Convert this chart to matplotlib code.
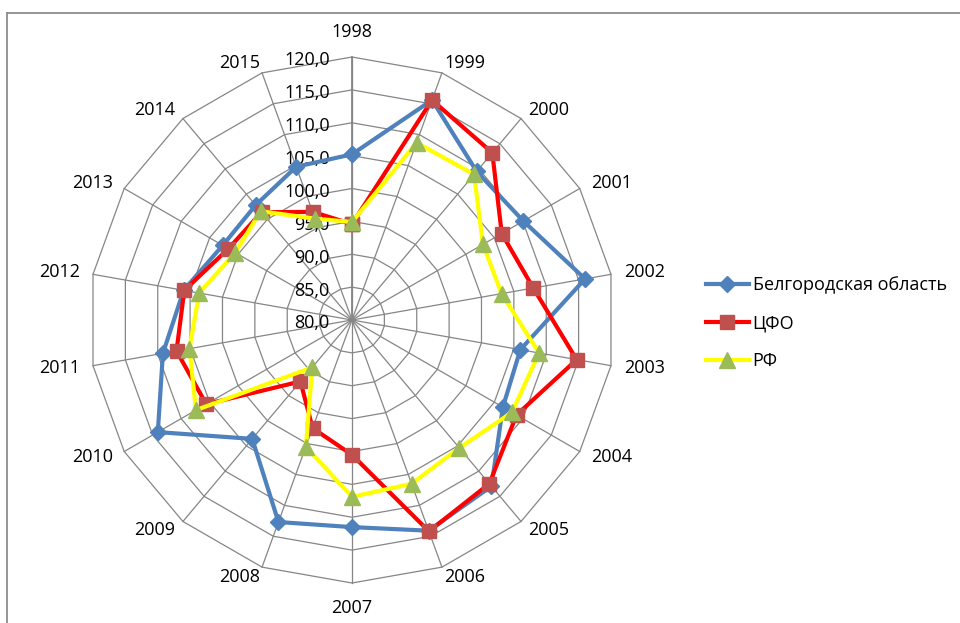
import numpy as np
import matplotlib
matplotlib.use('Agg')
import matplotlib.pyplot as plt
from matplotlib.lines import Line2D

plt.rcParams['font.family'] = ['Open Sans', 'DejaVu Sans']

# данные
years = ['1998', '1999', '2000', '2001', '2002', '2003', '2004', '2005', '2006',
         '2007', '2008', '2009', '2010', '2011', '2012', '2013', '2014', '2015']
belgorod = [105.2, 115.6, 109.5, 110.1, 116.0, 106.0, 106.5, 113.0, 114.1,
            111.5, 112.7, 103.6, 114.1, 109.2, 106.0, 102.7, 102.8, 104.8]
cfo = [94.6, 115.6, 113.2, 106.3, 108.0, 114.7, 108.9, 112.5, 114.2,
       100.5, 97.5, 92.2, 105.6, 107.1, 105.9, 101.7, 101.4, 97.5]
rf = [94.9, 108.7, 108.9, 103.0, 103.1, 108.9, 108.1, 105.4, 106.5,
      106.9, 100.5, 89.4, 107.4, 105.1, 103.6, 100.5, 101.6, 96.4]
r_ticks = [80, 85, 90, 95, 100, 105, 110, 115, 120]
names = ['Белгородская область', 'ЦФО', 'РФ']

n = len(years)
ang = np.linspace(0, 2 * np.pi, n, endpoint=False)
ang_c = np.append(ang, ang[0])

fig = plt.figure(figsize=(9.6, 6.23), dpi=100)
ax = fig.add_axes([0.0927, 0.0642, 0.5479, 0.8443], projection='polar')
ax.set_theta_zero_location('N')
ax.set_theta_direction(-1)
ax.set_ylim(80, 120)
ax.grid(False)
ax.spines['polar'].set_visible(False)
ax.set_xticks([])
ax.set_yticks([])
ax.patch.set_alpha(0)

grid_c = '#868686'
# кольца-многоугольники
for v in r_ticks[1:]:
    ax.plot(ang_c, [v] * (n + 1), color=grid_c, lw=0.9, zorder=1, clip_on=False)
# лучи
for a in ang:
    ax.plot([a, a], [80, 120], color=grid_c, lw=0.9, zorder=1, clip_on=False)
ax.plot([0, 0], [80, 120], color=grid_c, lw=1.3, zorder=1)

# подписи шкалы
for v in r_ticks:
    ax.annotate(f'{v:.1f}'.replace('.', ','), xy=(0, v), xytext=(-16, -2.5),
                textcoords='offset points', ha='right', va='center', fontsize=13)

# подписи годов
for a, y in zip(ang, years):
    s, c = np.sin(a), np.cos(a)
    ox = 17 if s > 0.01 else (-17 if s < -0.01 else 0)
    oy = 14 * np.sign(c) if ox == 0 else 0
    dx = 280 * s + ox
    dy = 274 * c + oy
    ax.annotate(y, xy=(0, 80), xytext=(dx * 0.72, dy * 0.72),
                textcoords='offset points', ha='center', va='center', fontsize=13)

ax.plot(ang_c, belgorod + belgorod[:1], color='#4F81BD', lw=3, marker='D', ms=8,
        mfc='#4F81BD', mec='#4F81BD', label=names[0], zorder=3, clip_on=False)
ax.plot(ang_c, cfo + cfo[:1], color='#FF0000', lw=3, marker='s', ms=9.5,
        mfc='#C0504D', mec='#C0504D', label=names[1], zorder=4, clip_on=False)
ax.plot(ang_c, rf + rf[:1], color='#FFFF00', lw=3, marker='^', ms=11,
        mfc='#9BBB59', mec='#9BBB59', label=names[2], zorder=5, clip_on=False)

fig.legend(loc='upper left', bbox_to_anchor=(0.735, 0.557), frameon=False,
           fontsize=13, handlelength=2.4, handletextpad=0.2, labelspacing=1.12,
           borderpad=0, borderaxespad=0)

# рамка диаграммы
fig.add_artist(Line2D([7 / 960, 7 / 960], [0, 1 - 13 / 623], transform=fig.transFigure,
                      color='#8c8c8c', lw=1.3))
fig.add_artist(Line2D([7 / 960, 1], [1 - 13 / 623, 1 - 13 / 623], transform=fig.transFigure,
                      color='#8c8c8c', lw=1.3))

fig.savefig('out.png', dpi=100)
